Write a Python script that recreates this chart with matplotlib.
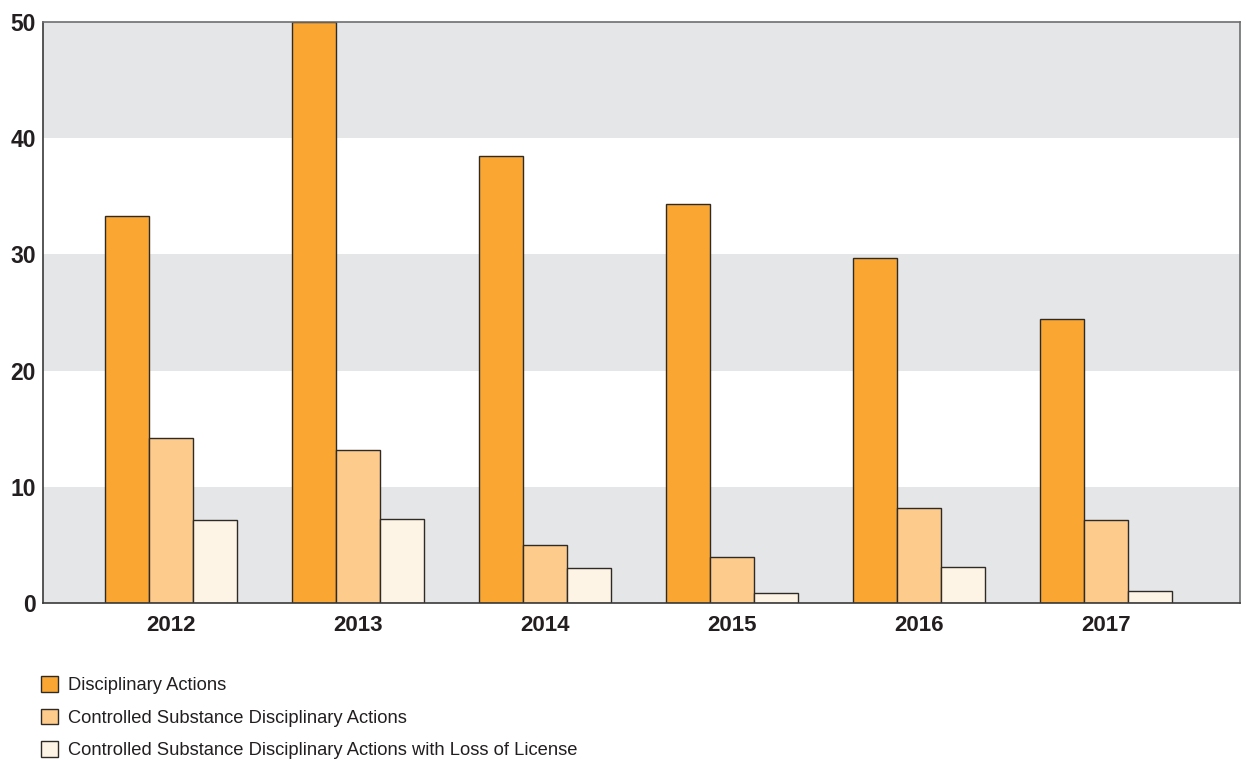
import matplotlib
matplotlib.use("Agg")
import matplotlib.pyplot as plt
import numpy as np

years = ["2012", "2013", "2014", "2015", "2016", "2017"]
disciplinary = [33.3, 50.0, 38.5, 34.3, 29.7, 24.4]
controlled = [14.2, 13.2, 5.0, 4.0, 8.2, 7.1]
loss_of_license = [7.1, 7.2, 3.0, 0.9, 3.1, 1.0]

series_labels = [
    "Disciplinary Actions",
    "Controlled Substance Disciplinary Actions",
    "Controlled Substance Disciplinary Actions with Loss of License",
]
colors = ["#F9A633", "#FDCB8C", "#FEF4E5"]
edge = "#2E2A25"

fig = plt.figure(figsize=(12.46, 7.6), dpi=100)
ax = fig.add_axes([0.0345, 0.2066, 0.9605, 0.7644])

# alternating horizontal bands
for lo in (0, 20, 40):
    ax.axhspan(lo, lo + 10, color="#E5E6E8", zorder=0, lw=0)

x = np.arange(len(years))
w = 0.235
for i, (vals, c, lab) in enumerate(zip([disciplinary, controlled, loss_of_license], colors, series_labels)):
    ax.bar(x + (i - 1) * w, vals, width=w, color=c, edgecolor=edge, linewidth=1.0,
           label=lab, zorder=2)

ax.set_xlim(-0.684, 5.717)
ax.set_ylim(0, 50)
ax.set_yticks([0, 10, 20, 30, 40, 50])
ax.set_xticks(x)
ax.set_xticklabels(years)
ax.tick_params(axis="both", length=0, colors="#231F20")
ax.tick_params(axis="x", pad=9, labelsize=16)
ax.tick_params(axis="y", pad=5, labelsize=16.5)
for lbl in ax.get_xticklabels() + ax.get_yticklabels():
    lbl.set_fontweight("bold")
    lbl.set_family("Liberation Sans")

for side in ["top", "right"]:
    ax.spines[side].set_color("#6D6E71")
    ax.spines[side].set_linewidth(1.2)
for side in ["left", "bottom"]:
    ax.spines[side].set_color("#3A3A3A")
    ax.spines[side].set_linewidth(1.2)

handles, labels = ax.get_legend_handles_labels()
leg = fig.legend(handles, labels, loc="upper left", bbox_to_anchor=(0.027, 0.12),
                 frameon=False, handlelength=0.95, handleheight=0.95,
                 handletextpad=0.5, labelspacing=0.78, borderaxespad=0,
                 prop={"family": "Liberation Sans", "size": 13.2})
for t in leg.get_texts():
    t.set_color("#231F20")

fig.savefig("out.png", dpi=100)
